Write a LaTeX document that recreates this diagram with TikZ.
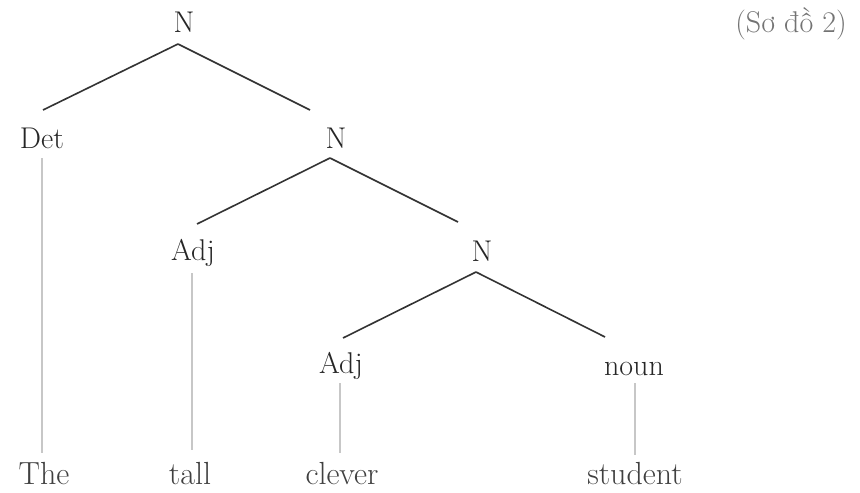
\documentclass[tikz,border=0pt]{standalone}
\usepackage{fontspec}
\usetikzlibrary{calc}
\begin{document}
\begin{tikzpicture}[x=0.5pt,y=-0.5pt,
  lab/.style={anchor=base,inner sep=0pt,font=\fontsize{15}{18}\selectfont,text=black!85},
  word/.style={anchor=base,inner sep=0pt,font=\fontsize{16}{19}\selectfont,text=black!75},
  branch/.style={draw=black!80,line width=0.8pt},
  stem/.style={draw=black!22,line width=0.8pt}]
\useasboundingbox (0,0) rectangle (860,492);
% nodes
\node[lab] (n1) at (184,33) {N};
\node[lab] (det) at (42,148) {Det};
\node[lab] (n2) at (336,148) {N};
\node[lab] (adj1) at (193,260) {Adj};
\node[lab] (n3) at (482,261) {N};
\node[lab] (adj2) at (341,373) {Adj};
\node[lab] (noun) at (634,375) {noun};
\node[word] (the) at (44,484) {The};
\node[word] (tall) at (190,484) {tall};
\node[word] (clever) at (342,484) {clever};
\node[word] (student) at (635,484) {student};
\node[lab,text=black!55] (title) at (791,33) {(Sơ đồ 2)};
% branches
\draw[branch] ($(n1.base)+(-6,11)$) -- ($(det.base)+(1,-38)$);
\draw[branch] ($(n1.base)+(-6,11)$) -- ($(n2.base)+(-26,-38)$);
\draw[branch] ($(n2.base)+(-6,10)$) -- ($(adj1.base)+(4,-36)$);
\draw[branch] ($(n2.base)+(-6,10)$) -- ($(n3.base)+(-24,-39)$);
\draw[branch] ($(n3.base)+(-6,11)$) -- ($(adj2.base)+(2,-35)$);
\draw[branch] ($(n3.base)+(-6,11)$) -- ($(noun.base)+(-29,-38)$);
% stems
\draw[stem] ($(det.base)+(0,10)$) -- ($(the.base)+(-2,-31)$);
\draw[stem] ($(adj1.base)+(-1,13)$) -- ($(tall.base)+(2,-34)$);
\draw[stem] ($(adj2.base)+(-1,10)$) -- ($(clever.base)+(-2,-31)$);
\draw[stem] ($(noun.base)+(1,8)$) -- ($(student.base)+(0,-29)$);
\end{tikzpicture}
\end{document}
